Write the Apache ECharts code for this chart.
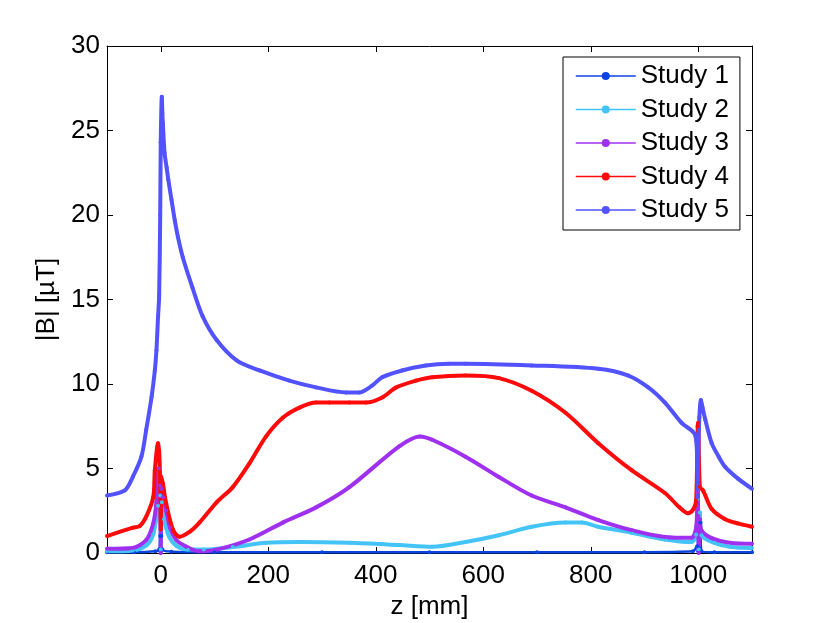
<!DOCTYPE html>
<html>
<head>
<meta charset="UTF-8">
<title>|B| along z</title>
<script src="https://cdn.jsdelivr.net/npm/echarts@6/dist/echarts.min.js"></script>
<style>
  html, body { margin: 0; padding: 0; background: #fff; }
  #main { width: 830px; height: 623px; }
</style>
</head>
<body>
<div id="main"></div>
<script>
// values: z in mm, |B| in uT
var seriesNames = ['Study 1', 'Study 2', 'Study 3', 'Study 4', 'Study 5'];
var xTicks = [0, 200, 400, 600, 800, 1000];

var s1Z = [-100, -50, -10, -3, -1, 0, 1, 3, 20, 100, 300, 500, 700, 900, 990, 998, 1000, 1002, 1004, 1006, 1030, 1100];
var s1B = [0.05, 0.05, 0.1, 0.2, 1.0, 3.4, 1.0, 0.2, 0.08, 0.05, 0.05, 0.05, 0.05, 0.05, 0.1, 0.4, 0.1, 0.3, 1.8, 0.1, 0.05, 0.05];

var s2Z = [-100, -52, -27, -14, -5, -1, 0, 2, 6, 15, 30, 50, 80, 134, 196, 258, 351, 443, 505, 567, 629, 690, 753, 783, 814, 876, 938, 987, 996, 999, 1001, 1003, 1006, 1030, 1061, 1100];
var s2B = [0.1, 0.15, 0.45, 1.1, 2.8, 3.4, 0.2, 3.0, 2.0, 1.0, 0.4, 0.2, 0.2, 0.35, 0.6, 0.65, 0.6, 0.47, 0.37, 0.65, 1.05, 1.55, 1.8, 1.8, 1.55, 1.2, 0.8, 0.65, 1.1, 3.2, 0.2, 2.4, 1.05, 0.6, 0.35, 0.3];

var s3Z = [-100, -52, -27, -14, -8, -4, -1, 0, 1, 4, 10, 17, 29, 48, 72, 104, 165, 227, 289, 351, 443, 482, 505, 567, 629, 690, 753, 814, 876, 938, 987, 996, 999, 1001, 1003, 1006, 1024, 1061, 1100];
var s3B = [0.25, 0.3, 0.77, 1.75, 3.0, 5.0, 4.0, 0.0, 3.8, 3.3, 2.5, 1.5, 0.77, 0.37, 0.1, 0.2, 0.8, 1.8, 2.7, 3.9, 6.3, 6.9, 6.7, 5.7, 4.5, 3.4, 2.7, 1.95, 1.35, 0.95, 0.9, 1.5, 3.6, 0.0, 2.0, 1.35, 0.9, 0.6, 0.55];

var s4Z = [-100, -52, -39, -27, -14, -11, -5, -3, -1, 0, 1, 4, 10, 23, 35, 54, 72, 104, 134, 165, 196, 227, 258, 289, 314, 351, 382, 412, 438, 475, 505, 567, 629, 690, 753, 814, 876, 938, 965, 981, 991, 996, 999, 1000, 1003, 1009, 1025, 1050, 1074, 1100];
var s4B = [1.0, 1.5, 1.6, 2.15, 3.3, 4.9, 6.5, 6.0, 4.2, 1.4, 4.5, 4.1, 2.95, 1.36, 0.96, 1.26, 1.8, 3.0, 3.9, 5.3, 6.9, 8.0, 8.6, 8.9, 8.9, 8.9, 8.9, 9.2, 9.8, 10.2, 10.4, 10.5, 10.35, 9.6, 8.3, 6.5, 4.9, 3.55, 2.7, 2.35, 2.6, 3.1, 7.5, 7.7, 3.9, 3.7, 2.6, 2.0, 1.75, 1.55];

var s5Z = [-100, -67, -52, -36, -27, -17, -11, -8, -5, -3, -1, 0, 2, 3, 4, 7, 11, 14, 20, 26, 32, 41, 59, 78, 104, 141, 184, 239, 289, 345, 369, 393, 412, 449, 493, 536, 567, 690, 814, 870, 907, 938, 969, 994, 998, 999, 1000, 1002, 1005, 1008, 1013, 1025, 1038, 1050, 1074, 1100];
var s5B = [3.4, 3.7, 4.5, 5.7, 7.3, 9.25, 10.8, 12.0, 14.0, 15.2, 20.0, 24.3, 27.0, 26.0, 25.4, 23.7, 22.8, 22.1, 20.9, 19.7, 18.7, 17.5, 15.7, 14.0, 12.6, 11.4, 10.8, 10.2, 9.8, 9.5, 9.5, 9.9, 10.4, 10.8, 11.1, 11.2, 11.2, 11.1, 10.9, 10.5, 9.8, 8.9, 7.7, 7.0, 5.5, 3.3, 6.0, 8.0, 9.05, 8.6, 7.9, 6.5, 5.7, 5.1, 4.4, 3.8];

var colors = ['#0b45e0', '#44c4f6', '#a030f0', '#ff0a0a', '#5252ff'];

function zip(zs, bs) {
  var out = [];
  for (var i = 0; i < zs.length; i++) out.push([zs[i], bs[i]]);
  return out;
}

var allZ = [s1Z, s2Z, s3Z, s4Z, s5Z];
var allB = [s1B, s2B, s3B, s4B, s5B];
var lineWidths = [2.5, 4, 4, 4, 4];

var font = 'Liberation Sans, Arial, Helvetica, sans-serif';

var series = [];
for (var k = 0; k < seriesNames.length; k++) {
  series.push({
    name: seriesNames[k],
    type: 'line',
    data: zip(allZ[k], allB[k]),
    symbol: 'circle',
    symbolSize: 4,
    showAllSymbol: true,
    smooth: 0.3,
    color: colors[k],
    lineStyle: { width: lineWidths[k], color: colors[k] },
    itemStyle: { color: colors[k] }
  });
}

var frameAxis = {
  axisLine: { show: true, onZero: false, lineStyle: { color: '#000', width: 1 } },
  axisTick: { inside: true, length: 6, lineStyle: { color: '#000' } },
  splitLine: { show: false }
};

var myChart = echarts.init(document.getElementById('main'));
myChart.setOption({
  animation: false,
  backgroundColor: '#fff',
  textStyle: { fontFamily: font },
  grid: { left: 107, right: 78, top: 46, bottom: 70, containLabel: false, outerBoundsMode: 'none' },
  legend: {
    orient: 'vertical',
    left: 563,
    top: 57,
    padding: [6, 11, 7, 12],
    itemGap: 7.5,
    itemWidth: 60,
    itemHeight: 10,
    itemTextGap: 7,
    backgroundColor: '#fff',
    borderColor: '#000',
    borderWidth: 1,
    borderRadius: 0,
    lineStyle: { width: 1.5 },
    textStyle: { fontSize: 26, color: '#000', fontFamily: font },
    data: seriesNames
  },
  xAxis: [
    Object.assign({}, frameAxis, {
      type: 'value', min: -100, max: 1100, position: 'bottom',
      name: 'z [mm]', nameLocation: 'middle', nameGap: 41,
      nameTextStyle: { fontSize: 26, color: '#000', fontFamily: font },
      axisTick: { inside: true, length: 6, lineStyle: { color: '#000' }, customValues: xTicks },
      axisLabel: { customValues: xTicks, fontSize: 26, color: '#000', margin: 10, fontFamily: font,
        formatter: function (v) { return String(v); } }
    }),
    Object.assign({}, frameAxis, {
      type: 'value', min: -100, max: 1100, position: 'top',
      axisTick: { inside: true, length: 6, lineStyle: { color: '#000' }, customValues: xTicks },
      axisLabel: { show: false }
    })
  ],
  yAxis: [
    Object.assign({}, frameAxis, {
      type: 'value', min: 0, max: 30, interval: 5, position: 'left',
      name: '|B| [µT]', nameLocation: 'middle', nameGap: 45, nameRotate: 90,
      nameTextStyle: { fontSize: 26, color: '#000', fontFamily: font },
      axisLabel: { fontSize: 26, color: '#000', margin: 7, fontFamily: font }
    }),
    Object.assign({}, frameAxis, {
      type: 'value', min: 0, max: 30, interval: 5, position: 'right',
      axisLabel: { show: false }
    })
  ],
  series: series
});
</script>
</body>
</html>
